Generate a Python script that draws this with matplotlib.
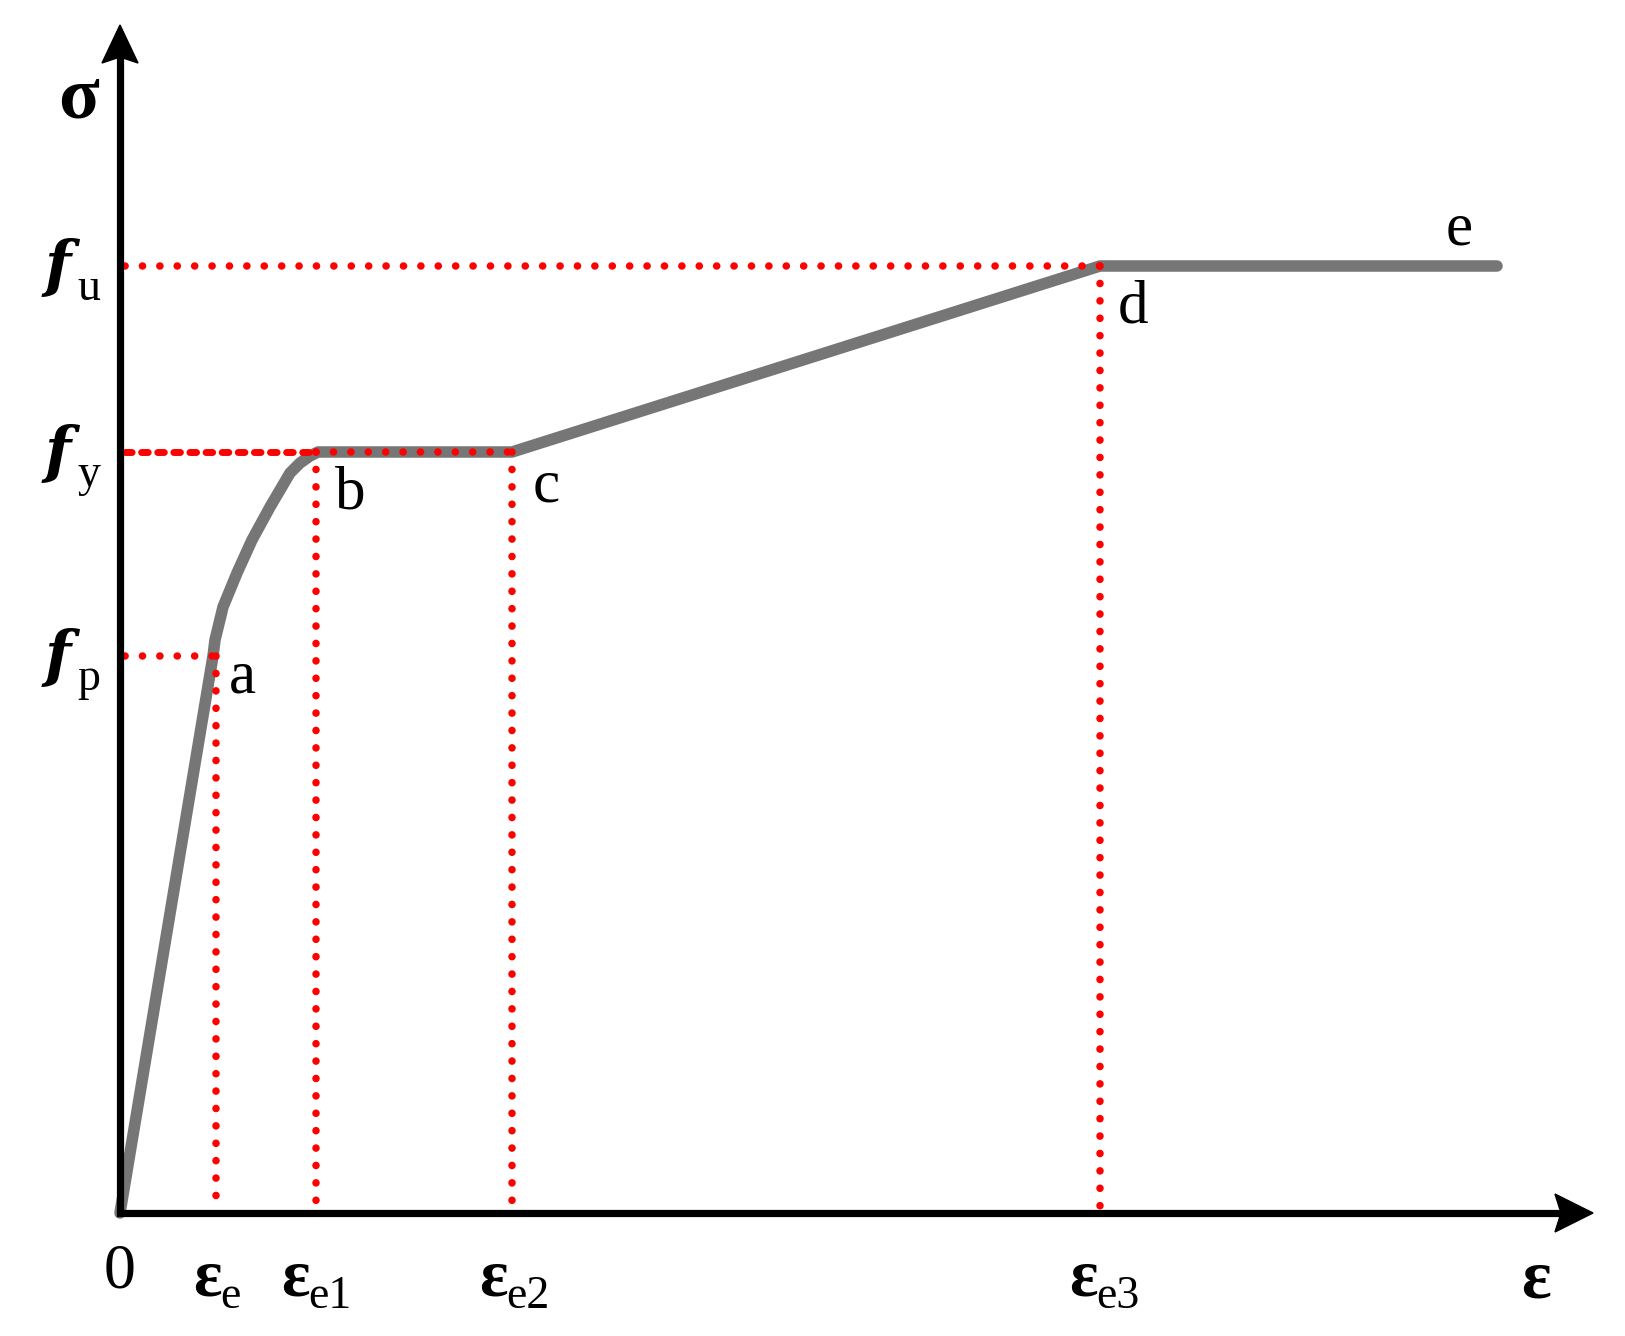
import matplotlib
matplotlib.use("Agg")
import matplotlib.pyplot as plt
from matplotlib.patches import Polygon

# ---- data (schematic units) ----
curve_x = [0, 93, 95, 103, 117, 132, 150, 170, 180, 190, 198, 392, 980, 1377]
curve_y = [0, 557, 573, 606, 640, 673, 706, 740, 750, 757, 761, 761, 947, 947]

f_p, f_y, f_u = 557, 761, 947
eps_e, eps_e1, eps_e2, eps_e3 = 96, 196, 392, 980

y_levels = [f_p, f_y, f_u]
y_level_ends = [eps_e, eps_e2, eps_e3]
y_subs = ["p", "y", "u"]

x_marks = [eps_e, eps_e1, eps_e2, eps_e3]
x_mark_tops = [f_p, f_y, f_y, f_u]
x_subs = ["e", "e1", "e2", "e3"]

point_labels = ["a", "b", "c", "d", "e"]
point_label_pos = [(122, 535), (230, 719), (426, 726), (1013, 905), (1339, 983)]

# ---- figure ----
W, H, DPI = 1625, 1336, 100
fig = plt.figure(figsize=(W / DPI, H / DPI), dpi=DPI)
ax = fig.add_axes([0, 0, 1, 1])
ax.set_xlim(-120, W - 120)
ax.set_ylim(-(H - 1213), 1213)
ax.axis("off")

SERIF = "Liberation Serif"
red = "#ff0000"
gray = "#767676"
LW_DOT = 5.4
dot_style = (0, (0.02, 2.3))
dash_style = (0, (0.95, 1.37))

# dotted guide lines
for lev, xe in zip(y_levels, y_level_ends):
    if lev == f_y:
        ax.plot([5, eps_e1], [lev, lev], color=red, lw=LW_DOT - 0.4, linestyle=dash_style,
                dash_capstyle="round", zorder=3)
        ax.plot([eps_e1, xe], [lev, lev], color=red, lw=LW_DOT, linestyle=dot_style,
                dash_capstyle="round", zorder=3)
    else:
        ax.plot([5, xe], [lev, lev], color=red, lw=LW_DOT, linestyle=dot_style,
                dash_capstyle="round", zorder=3)
for xm, top in zip(x_marks, x_mark_tops):
    ax.plot([xm, xm], [top, 6], color=red, lw=LW_DOT, linestyle=dot_style,
            dash_capstyle="round", zorder=3)

# stress-strain curve
ax.plot(curve_x, curve_y, color=gray, lw=8.3, solid_capstyle="round",
        solid_joinstyle="round", zorder=2)

# axes with arrows
ax.plot([1473 - 20, 0, 0], [0, 0, 1188 - 20], color="k", lw=5.2,
        solid_joinstyle="miter", solid_capstyle="butt", zorder=4)
ytip = 1188
ax.add_patch(Polygon([(0, ytip), (-18, ytip - 38), (0, ytip - 32), (18, ytip - 38)],
                     closed=True, color="k", zorder=5))
xtip = 1473
ax.add_patch(Polygon([(xtip, 0), (xtip - 38, 19), (xtip - 32, 0), (xtip - 38, -19)],
                     closed=True, color="k", zorder=5))

# axis titles
ax.text(-42, 1113, "σ", fontsize=54, fontweight="bold", family=SERIF,
        ha="center", va="center")
ax.text(1416, -67, "ε", fontsize=50, fontweight="bold", family=SERIF,
        ha="center", va="center")
ax.text(0, -59, "0", fontsize=46, family=SERIF, ha="center", va="center")

# y labels
for lev, s in zip(y_levels, y_subs):
    ax.text(-62, lev - 2, "f", fontsize=44, fontweight="bold", style="italic",
            family="DejaVu Serif", ha="center", va="center")
    ax.text(-43, lev - 34, s, fontsize=33, family=SERIF, ha="left", va="baseline")

# x labels
x_eps_right = [102, 190, 388, 978]
for xr, s in zip(x_eps_right, x_subs):
    ax.text(xr, -82, "ε", fontsize=48, fontweight="bold", family=SERIF,
            ha="right", va="baseline")
    ax.text(xr - 2, -95, s, fontsize=33, family=SERIF, ha="left", va="baseline")

# point labels
for lab, (px, py) in zip(point_labels, point_label_pos):
    ax.text(px, py, lab, fontsize=44, family=SERIF, ha="center", va="center")

fig.savefig("out.png", dpi=DPI)
